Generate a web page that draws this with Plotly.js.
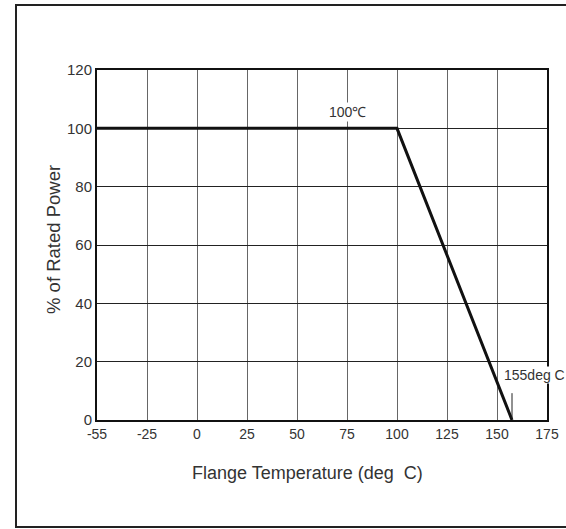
<!DOCTYPE html>
<html>
<head>
<meta charset="utf-8">
<script src="https://cdn.plot.ly/plotly-3.0.1.min.js"></script>
<style>html,body{margin:0;padding:0;background:#fff;}#chart{width:566px;height:529px;}</style>
</head>
<body>
<div id="chart"></div>
<script>
// Data (x positions on the evenly spaced temperature scale; leftmost tick labelled -55)
var temperature = [-50, 100, 157.5];
var ratedPower = [100, 100, 0];
var xTickVals = [-50, -25, 0, 25, 50, 75, 100, 125, 150, 175];
var xTickText = ['-55', '-25', '0', '25', '50', '75', '100', '125', '150', '175'];
var yTickVals = [0, 20, 40, 60, 80, 100, 120];
var kneeLabel = {x: 75, y: 105.7, text: '100\u2103'};
var endLabel = {x: 168.7, y: 15.4, text: '155deg C'};
var leaderX = [157.5, 157.5];
var leaderY = [0.7, 9.2];
var xTitle = 'Flange Temperature (deg  C)';
var yTitle = '% of Rated Power';

var font = 'Liberation Sans, Arial, sans-serif';
var trace = {
  x: temperature, y: ratedPower, type: 'scatter', mode: 'lines',
  line: {color: '#111', width: 3}, hoverinfo: 'skip', showlegend: false
};
var leader = {
  x: leaderX, y: leaderY, type: 'scatter', mode: 'lines',
  line: {color: '#222', width: 1}, hoverinfo: 'skip', showlegend: false
};
var layout = {
  width: 566, height: 529,
  margin: {l: 97, r: 19, t: 70, b: 109},
  paper_bgcolor: '#fff', plot_bgcolor: '#fff',
  font: {family: font, size: 14, color: '#333'},
  xaxis: {
    range: [-50, 175], tickvals: xTickVals, ticktext: xTickText,
    showgrid: true, gridcolor: '#666', gridwidth: 1,
    zeroline: false, showline: true, linecolor: '#111', linewidth: 2, mirror: true,
    ticks: '', ticklen: 0, tickfont: {family: font, size: 14, color: '#333'}
  },
  yaxis: {
    range: [0, 120], tickvals: yTickVals,
    showgrid: true, gridcolor: '#222', gridwidth: 1,
    zeroline: false, showline: true, linecolor: '#111', linewidth: 2, mirror: true,
    ticks: '', ticklen: 0, tickfont: {family: font, size: 15, color: '#333'}
  },
  shapes: [{
    type: 'rect', xref: 'paper', yref: 'paper',
    x0: (16 - 97) / 450, x1: (572 - 97) / 450,
    y0: (420 - 527) / 350, y1: (420 - 5) / 350,
    line: {color: '#222', width: 2}, fillcolor: 'rgba(0,0,0,0)', layer: 'above'
  }],
  annotations: [
    {x: kneeLabel.x, y: kneeLabel.y, text: kneeLabel.text, showarrow: false,
     bgcolor: '#fff', font: {family: font, size: 14, color: '#333'}, borderpad: 1},
    {x: endLabel.x, y: endLabel.y, text: endLabel.text, showarrow: false,
     bgcolor: '#fff', font: {family: font, size: 14, color: '#333'}, borderpad: 0},
    {xref: 'paper', yref: 'paper', x: (307.5 - 97) / 450, y: (420 - 473) / 350,
     text: xTitle, showarrow: false, xanchor: 'center', yanchor: 'middle',
     font: {family: font, size: 18, color: '#333'}},
    {xref: 'paper', yref: 'paper', x: (53 - 97) / 450, y: (420 - 240) / 350,
     text: yTitle, textangle: -90, showarrow: false, xanchor: 'center', yanchor: 'middle',
     font: {family: font, size: 18.5, color: '#333'}}
  ]
};
Plotly.newPlot('chart', [trace, leader], layout, {displayModeBar: false, staticPlot: true});
</script>
</body>
</html>
